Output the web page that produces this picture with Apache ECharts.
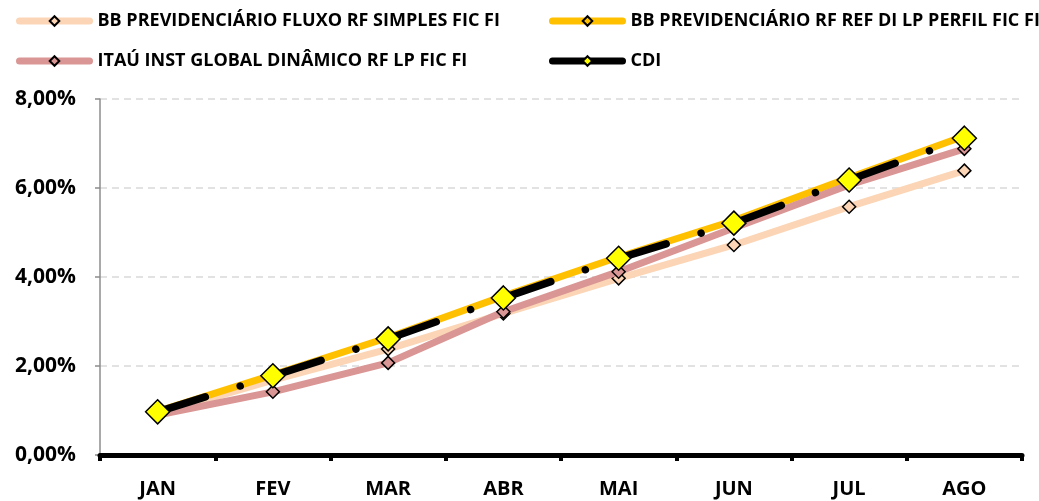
<!DOCTYPE html>
<html>
<head>
<meta charset="utf-8">
<script src="https://cdn.jsdelivr.net/npm/echarts@6/dist/echarts.min.js"></script>
<style>
  html, body { margin: 0; padding: 0; background: #fff; }
  #chart { width: 1039px; height: 501px; }
</style>
</head>
<body>
<div id="chart"></div>
<script>
// meses
var months = ['JAN', 'FEV', 'MAR', 'ABR', 'MAI', 'JUN', 'JUL', 'AGO'];
// rentabilidade acumulada (%)
var fluxoSimples = [0.93, 1.68, 2.38, 3.18, 3.97, 4.72, 5.58, 6.39];
var refDiPerfil = [0.98, 1.80, 2.64, 3.57, 4.45, 5.27, 6.23, 7.17];
var itauGlobal = [0.90, 1.42, 2.07, 3.22, 4.12, 5.10, 6.07, 6.88];
var cdi = [0.97, 1.78, 2.61, 3.53, 4.42, 5.21, 6.18, 7.12];
var yTicks = [0, 2, 4, 6, 8];

var names = [
  'BB PREVIDENCIÁRIO FLUXO RF SIMPLES FIC FI',
  'BB PREVIDENCIÁRIO RF REF DI LP PERFIL FIC FI',
  'ITAÚ INST GLOBAL DINÂMICO RF LP FIC FI',
  'CDI'
];

var chart = echarts.init(document.getElementById('chart'));

// uma legenda por item, para posicionar como no original
function legendItem(name, left, top) {
  return {
    left: left, top: top, padding: 0,
    itemWidth: 70, itemHeight: 12, itemGap: 0,
    textStyle: { fontFamily: 'Open Sans', fontWeight: 'bold', fontSize: 18, color: '#000', lineHeight: 12, padding: [0, 0, 0, 3] },
    lineStyle: { width: 7, cap: 'round', type: 'solid' },
    data: [name]
  };
}

function smallDiamond(color) {
  return {
    symbol: 'diamond',
    symbolSize: 13,
    itemStyle: { color: color, borderColor: '#000', borderWidth: 1.5 }
  };
}

chart.setOption({
  animation: false,
  legend: [
    legendItem(names[0], 16, 12),
    legendItem(names[2], 16, 52),
    legendItem(names[1], 549, 12),
    legendItem(names[3], 549, 52)
  ],
  grid: { left: 100, right: 17, top: 99, bottom: 46 },
  xAxis: {
    type: 'category',
    data: months,
    boundaryGap: true,
    z: 5,
    axisLine: { lineStyle: { color: '#000', width: 5 } },
    axisTick: { show: true, interval: 0, length: 6, lineStyle: { color: '#000', width: 4 } },
    axisLabel: {
      margin: 24,
      fontFamily: 'Open Sans', fontWeight: 'bold', fontSize: 20, color: '#000'
    }
  },
  yAxis: {
    type: 'value',
    min: yTicks[0],
    max: yTicks[yTicks.length - 1],
    interval: 2,
    axisLine: { show: true, lineStyle: { color: '#8c8c8c', width: 1.5 } },
    axisTick: { show: true, length: 5, lineStyle: { color: '#8c8c8c', width: 1.5 } },
    splitLine: { lineStyle: { color: '#d9d9d9', width: 1.5, type: [7, 5] } },
    axisLabel: {
      margin: 24,
      fontFamily: 'Open Sans', fontWeight: 'bold', fontSize: 21, color: '#000',
      formatter: function (v) { return v.toFixed(2).replace('.', ',') + '%'; }
    }
  },
  series: [
    Object.assign({
      name: names[0], type: 'line', data: fluxoSimples, z: 2,
      lineStyle: { color: '#fbd5b5', width: 7 }
    }, smallDiamond('#fbd5b5')),
    Object.assign({
      name: names[1], type: 'line', data: refDiPerfil, z: 3,
      lineStyle: { color: '#ffc000', width: 7 }
    }, smallDiamond('#ffc000')),
    Object.assign({
      name: names[2], type: 'line', data: itauGlobal, z: 4,
      lineStyle: { color: '#d99694', width: 7 }
    }, smallDiamond('#d99694')),
    {
      name: names[3], type: 'line', data: cdi, z: 6,
      symbol: 'diamond', symbolSize: 24,
      itemStyle: { color: '#ffff00', borderColor: '#000', borderWidth: 1.5 },
      lineStyle: { color: '#000', width: 7.5, cap: 'round', type: [50, 36.5, 0.01, 34.9] }
    }
  ]
});
</script>
</body>
</html>
